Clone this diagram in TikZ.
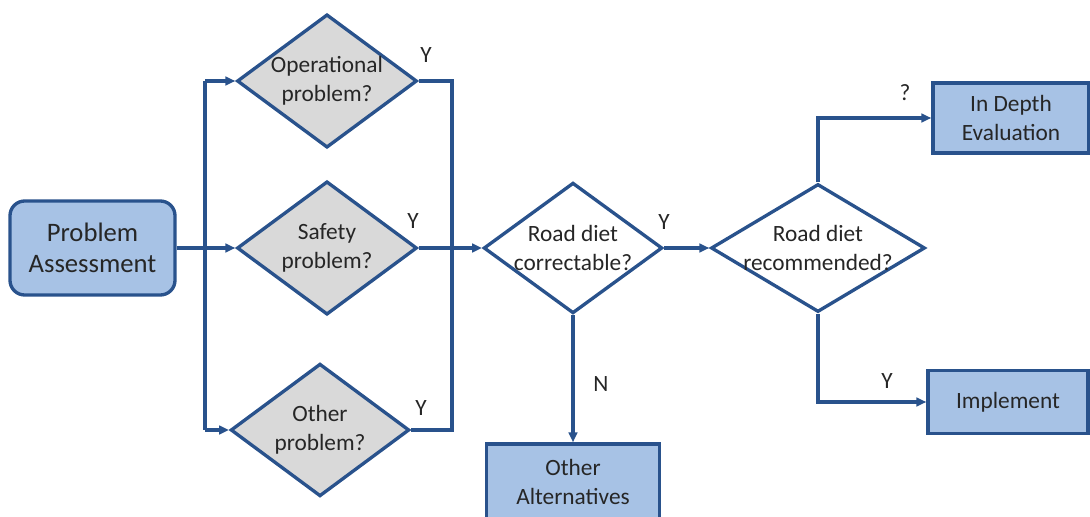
\documentclass[tikz,border=0pt]{standalone}
\usepackage{fontspec}
\setmainfont{Carlito}
\usetikzlibrary{shapes.geometric,arrows.meta}
\definecolor{flowblue}{RGB}{41,82,140}
\definecolor{boxblue}{RGB}{167,194,229}
\definecolor{qgray}{RGB}{217,217,217}
\begin{document}
\begin{tikzpicture}[x=0.75pt,y=-0.75pt,
    every node/.style={text=black!85,font=\fontsize{17.5}{21.5}\selectfont},
    ques/.style={diamond,draw=flowblue,line width=2.5pt,inner sep=-25pt,align=center},
    act/.style={rectangle,draw=flowblue,fill=boxblue,line width=2.5pt,inner sep=0pt,align=center},
    flow/.style={draw=flowblue,line width=2.4pt},
    arr/.style={flow,-{Triangle[length=7.5pt,width=6.5pt]}},
    yn/.style={inner sep=0pt}]
    \useasboundingbox (0,0) rectangle (1090,517);

    % boxes
    \node[act,rounded corners=11pt,minimum width=123.75pt,minimum height=70.5pt,
          font=\fontsize{20}{23.5}\selectfont] (assess) at (92.5,248) {Problem\\Assessment};
    \node[act,minimum width=117pt,minimum height=52.5pt] (indepth) at (1011,118) {In Depth\\Evaluation};
    \node[act,minimum width=120pt,minimum height=47pt] (implement) at (1008,402) {Implement};
    \node[act,minimum width=130pt,minimum height=57pt] (otheralt) at (573,482) {Other\\Alternatives};

    % questions
    \node[ques,fill=qgray,minimum width=135pt,minimum height=100pt] (oper) at (327,81) {Operational\\problem?};
    \node[ques,fill=qgray,minimum width=135pt,minimum height=100pt] (safety) at (327,248) {Safety\\problem?};
    \node[ques,fill=qgray,minimum width=134pt,minimum height=99.5pt] (other) at (320,430) {Other\\problem?};
    \node[ques,fill=white,minimum width=134pt,minimum height=98pt] (correct) at (573,248) {Road diet\\correctable?};
    \node[ques,fill=white,minimum width=160.5pt,minimum height=96pt] (recomm) at (818,248) {Road diet\\recommended?};

    % connectors
    \coordinate (lsp) at (205,248);
    \coordinate (rsp) at (452,248);
    \draw[arr] (assess.east) -- (safety.west);
    \draw[flow] (lsp |- oper.west) -- (lsp |- other.west);
    \draw[arr] (lsp |- oper.west) -- (oper.west);
    \draw[arr] (lsp |- other.west) -- (other.west);
    \draw[flow] (oper.east) -| (rsp) |- (other.east);
    \draw[arr] (safety.east) -- (correct.west);
    \draw[arr] (correct.east) -- (recomm.west);
    \draw[arr] (correct.south) -- (otheralt.north);
    \draw[arr] (recomm.north) |- (indepth.west);
    \draw[arr] (recomm.south) |- (implement.west);

    % labels
    \node[yn] (yoper) at (426,55) {Y};
    \node[yn] (ysafety) at (413,221) {Y};
    \node[yn] (yother) at (421,408) {Y};
    \node[yn] (ycorrect) at (664,222) {Y};
    \node[yn] (ncorrect) at (601,384) {N};
    \node[yn] (qrecomm) at (905,93) {?};
    \node[yn] (yrecomm) at (887,381) {Y};
\end{tikzpicture}
\end{document}
